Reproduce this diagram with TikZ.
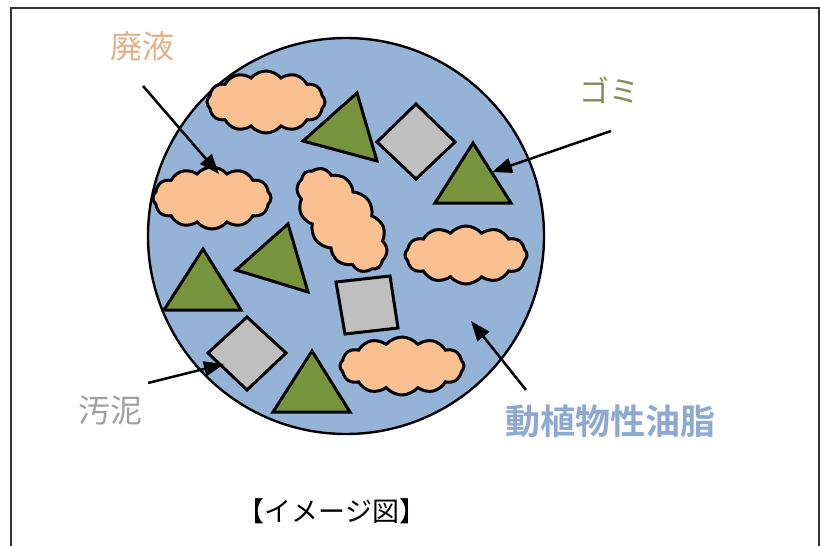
\documentclass[tikz,border=0pt]{standalone}
\usepackage{fontspec}
\newfontfamily\jp{Noto Sans CJK JP}
\newfontfamily\jpb{Noto Sans CJK JP Bold}
\usetikzlibrary{shapes.symbols,shapes.geometric,arrows.meta}
\definecolor{discblue}{RGB}{149,179,215}
\definecolor{peach}{RGB}{250,192,144}
\definecolor{olive}{RGB}{119,147,60}
\definecolor{lgrey}{RGB}{191,191,191}
\definecolor{lblpeach}{RGB}{228,176,136}
\definecolor{lblolive}{RGB}{127,143,79}
\definecolor{lblgrey}{RGB}{160,160,160}
\definecolor{lblblue}{RGB}{141,169,208}
\tikzset{
  frame/.style={line width=1.8pt, draw=black!80},
  disc/.style={circle, draw=black, line width=2.4pt, fill=discblue, inner sep=0pt, minimum size=396pt},
  blob/.style={cloud, cloud puffs=12, cloud puff arc=100, draw=black, line width=3pt, fill=peach, inner sep=0pt, minimum width=#1},
  tri/.style={draw=black, line width=3pt, fill=olive, line join=miter},
  dia/.style={draw=black, line width=3pt, fill=lgrey, line join=miter},
  arr/.style={line width=2.5pt, -{Triangle[length=20pt,width=15pt]}},
  lbl/.style={inner sep=0pt, font=\jp\fontsize{30}{30}\selectfont},
}
\begin{document}
\begin{tikzpicture}[x=1pt,y=-1pt]
\useasboundingbox (0,0) rectangle (820,546);
\draw[frame] (11,546) -- (11,8) -- (819,8) -- (819,546);

\node[disc] (disc) at (346,236) {};

% clouds
\node[blob=118pt, minimum height=62pt] (c1) at (266,102) {};
\node[blob=118pt, minimum height=62pt] (c2) at (212,198) {};
\node[blob=120pt, minimum height=66pt, rotate=-52] (c3) at (342,220) {};
\node[blob=122pt, minimum height=58pt] (c4) at (466,255) {};
\node[blob=124pt, minimum height=58pt] (c5) at (402,366) {};

% triangles
\draw[tri] (303,141) -- (357,93) -- (377,161) -- cycle;
\draw[tri] (435,203) -- (473,143) -- (511,203) -- cycle;
\draw[tri] (164,310) -- (203,249) -- (241,310) -- cycle;
\draw[tri] (236,270) -- (288,224) -- (308,292) -- cycle;
\draw[tri] (273,412) -- (312,351) -- (350,412) -- cycle;

% grey squares
\draw[dia] (377,142) -- (416,104) -- (455,142) -- (416,179) -- cycle;
\draw[dia] (208,353) -- (247,317) -- (286,353) -- (247,390) -- cycle;
\draw[dia] (336,282) -- (390,276) -- (398,328) -- (345,334) -- cycle;

% labels
\node[lbl, text=lblpeach, font=\jp\fontsize{32}{32}\selectfont] (haieki) at (142,46) {廃液};
\node[lbl, text=lblolive] (gomi) at (609,90) {ゴミ};
\node[lbl, text=lblgrey, font=\jp\fontsize{32}{32}\selectfont] (odei) at (110,410) {汚泥};
\node[lbl, text=lblblue, font=\jpb\fontsize{35}{35}\selectfont] (yushi) at (610,421) {動植物性油脂};
\node[lbl, text=black, font=\jp\fontsize{27}{27}\selectfont] (caption) at (332,511) {【イメージ図】};

% arrows
\coordinate (a1s) at (143,86);  \coordinate (a1e) at (219,174);
\coordinate (a2s) at (611,131); \coordinate (a2e) at (492,172);
\coordinate (a3s) at (148,383); \coordinate (a3e) at (224,364);
\coordinate (a4s) at (526,390); \coordinate (a4e) at (471,321);
\draw[arr] (a1s) -- (a1e);
\draw[arr] (a2s) -- (a2e);
\draw[arr] (a3s) -- (a3e);
\draw[arr] (a4s) -- (a4e);
\end{tikzpicture}
\end{document}
